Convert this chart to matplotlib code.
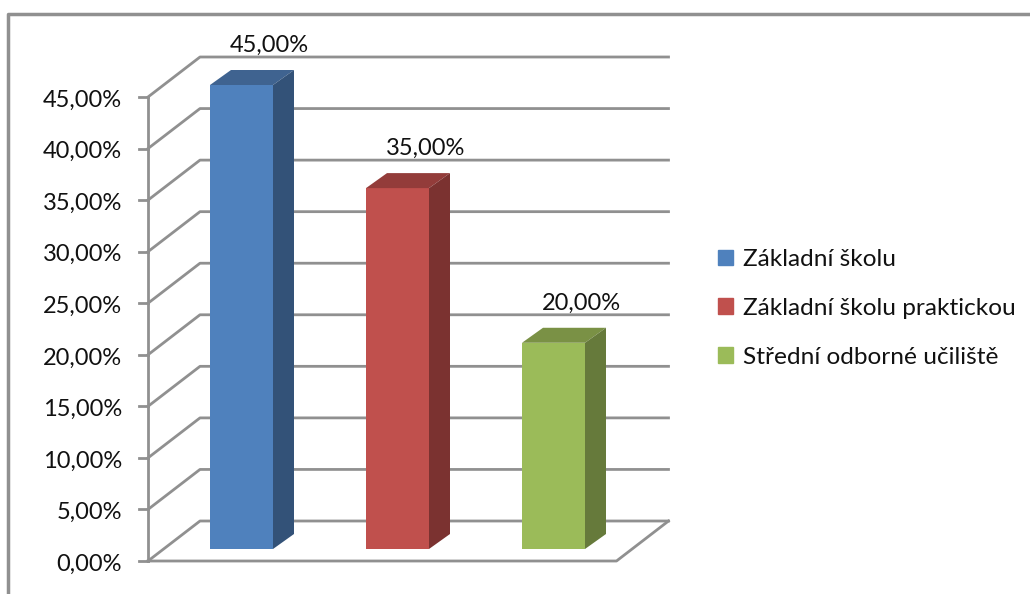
import matplotlib
matplotlib.use('Agg')
import matplotlib.pyplot as plt
from matplotlib.patches import Patch

categorias = ['Základní školu', 'Základní školu praktickou', 'Střední odborné učiliště']
valores = [45, 35, 20]
etiquetas_y = ['0,00%', '5,00%', '10,00%', '15,00%', '20,00%', '25,00%', '30,00%', '35,00%', '40,00%', '45,00%']
marcas_y = [0, 5, 10, 15, 20, 25, 30, 35, 40, 45]
etiquetas_barras = ['45,00%', '35,00%', '20,00%']
colores = ['#4f81bd', '#c0504d', '#9bbb59']
colores_tapa = ['#3f6390', '#933c3a', '#7a9145']
colores_lado = ['#335278', '#7b3230', '#667a3b']

GRIS = '#909090'
PX_X = 156.0     # pixeles por categoria
PX_Y = 464 / 45  # pixeles por 1 %

plt.rcParams['font.family'] = ['Lato', 'DejaVu Sans']

fig = plt.figure(figsize=(10.3, 5.94), dpi=100)
ax = fig.add_axes([0, 0, 1, 1])
ax.set_xlim(-241.5 / PX_X, (1030 - 241.5) / PX_X)
ax.set_ylim(-(594 - 561) / PX_Y, 561 / PX_Y)
ax.axis('off')

# perspectiva del piso y de las barras
izq = -93.5 / PX_X
der = 375 / PX_X
prof_x = 52 / PX_X
prof_y = 40 / PX_Y
base = 12 / PX_Y
ancho = 63 / PX_X
barra_x = 21 / PX_X
barra_y = 15 / PX_Y

# rejilla
for m in marcas_y:
    ax.plot([izq, izq + prof_x, der + prof_x], [m, m + prof_y, m + prof_y], color=GRIS, lw=2, zorder=1)
    ax.plot([izq - 9 / PX_X, izq], [m, m], color=GRIS, lw=2, zorder=1)
ax.plot([izq, izq], [0, 45], color=GRIS, lw=2, zorder=1)
ax.plot([izq, der, der + prof_x], [0, 0, prof_y], color=GRIS, lw=2, zorder=1)

for m, e in zip(marcas_y, etiquetas_y):
    ax.text(izq - 26 / PX_X, m - 0.3, e, ha='right', va='center', fontsize=17, color='#111111')

# barras
for i in range(len(valores)):
    v = valores[i]
    iz = i - ancho / 2
    de = i + ancho / 2
    ax.bar(i, v, width=ancho, bottom=base, color=colores[i], zorder=3)
    ax.fill([iz, de, de + barra_x, iz + barra_x], [base + v, base + v, base + v + barra_y, base + v + barra_y],
            color=colores_tapa[i], lw=0, zorder=3)
    ax.fill([de, de + barra_x, de + barra_x, de], [base, base + barra_y, base + v + barra_y, base + v],
            color=colores_lado[i], lw=0, zorder=3)
    ax.text(i + 28 / PX_X, base + v + 3.85, etiquetas_barras[i], ha='center', va='center', fontsize=17, color='#111111')

# marco
marco_x = -241.5 / PX_X
ax.plot([marco_x + 8 / PX_X, marco_x + 8 / PX_X, marco_x + 1030 / PX_X],
        [-33 / PX_Y, (561 - 14) / PX_Y, (561 - 14) / PX_Y], color=GRIS, lw=2.5, zorder=1)

handles = [Patch(color=c) for c in colores]
ax.legend(handles, categorias, loc='upper left', bbox_to_anchor=(718 / 1030, 1 - 249 / 594), frameon=False,
          fontsize=17.6, handlelength=0.61, handleheight=0.61, handletextpad=0.4, labelspacing=1.14, borderpad=0, borderaxespad=0,
          labelcolor='#111111')

plt.savefig('out.png')
